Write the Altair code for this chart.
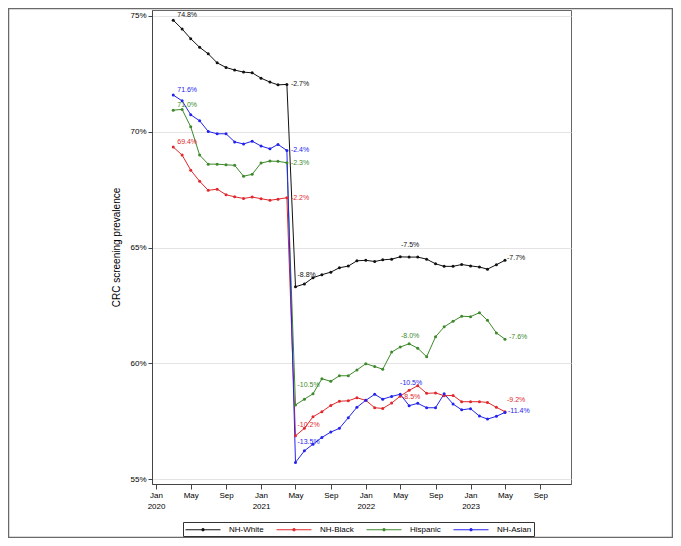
import altair as alt
import pandas as pd

# ---------------- data ----------------
SERIES = ["NH-White", "NH-Black", "Hispanic", "NH-Asian"]
COLORS = ["#111111", "#e0282d", "#3d8a2b", "#2323ee"]

# months March 2020 .. May 2023 (39 monthly points)
MONTHS = []
for yr in (2020, 2021, 2022, 2023):
    for mo in range(1, 13):
        if (yr, mo) >= (2020, 3) and (yr, mo) <= (2023, 5):
            MONTHS.append(f"{yr}-{mo:02d}-01T00:00:00")

NH_WHITE = [74.81, 74.43, 74.01, 73.64, 73.36, 72.97, 72.77, 72.66, 72.57, 72.54, 72.31, 72.14, 72.02, 72.04,
            63.31, 63.43, 63.70, 63.83, 63.94, 64.13, 64.20, 64.43, 64.45, 64.40, 64.47, 64.50, 64.60, 64.59,
            64.59, 64.50, 64.30, 64.19, 64.19, 64.27, 64.21, 64.16, 64.07, 64.26, 64.45]
NH_BLACK = [69.34, 68.99, 68.34, 67.86, 67.47, 67.52, 67.28, 67.19, 67.12, 67.18, 67.11, 67.04, 67.09, 67.15,
            56.88, 57.20, 57.70, 57.92, 58.19, 58.37, 58.39, 58.52, 58.41, 58.09, 58.06, 58.29, 58.59, 58.84,
            59.04, 58.71, 58.73, 58.61, 58.62, 58.35, 58.35, 58.35, 58.32, 58.11, 57.92]
HISPANIC = [70.93, 70.96, 70.21, 68.99, 68.60, 68.60, 68.57, 68.55, 68.08, 68.16, 68.65, 68.73, 68.72, 68.66,
            58.21, 58.46, 58.69, 59.34, 59.23, 59.47, 59.47, 59.72, 59.99, 59.87, 59.75, 60.49, 60.71, 60.85,
            60.66, 60.29, 61.15, 61.58, 61.82, 62.04, 62.02, 62.19, 61.86, 61.32, 61.05]
NH_ASIAN = [71.58, 71.33, 70.73, 70.47, 70.01, 69.91, 69.91, 69.56, 69.47, 69.59, 69.38, 69.26, 69.45, 69.19,
            55.73, 56.23, 56.52, 56.81, 57.04, 57.20, 57.66, 58.11, 58.41, 58.67, 58.46, 58.58, 58.67, 58.18,
            58.28, 58.09, 58.09, 58.69, 58.25, 58.00, 58.05, 57.73, 57.60, 57.72, 57.89]

VALUES = {"NH-White": NH_WHITE, "NH-Black": NH_BLACK, "Hispanic": HISPANIC, "NH-Asian": NH_ASIAN}

# annotation labels: series, month, text
LABEL_SERIES = ["NH-White", "NH-Black", "Hispanic", "NH-Asian"] * 5
LABEL_MONTH = ["2020-03"] * 4 + ["2021-04"] * 4 + ["2021-05"] * 4 + ["2022-06"] * 4 + ["2023-05"] * 4
LABEL_TEXT = ["74.8%", "69.4%", "71.0%", "71.6%",
              "-2.7%", "-2.2%", "-2.3%", "-2.4%",
              "-8.8%", "-10.2%", "-10.5%", "-13.5%",
              "-7.5%", "-8.5%", "-8.0%", "-10.5%",
              "-7.7%", "-9.2%", "-7.6%", "-11.4%"]

# label styling (dx, dy, align) -- styles, not data
LABEL_STYLE = [(4, -5, "left")] * 4 + [(4, 0, "left")] * 4 + \
              [(2, -12, "left"), (2, -11, "left"), (2, -20, "left"), (2, -20, "left")] + \
              [(1, -12, "center"), (2, 7, "center"), (1, -8, "center"), (2, -23, "center")] + \
              [(2, -2, "left"), (2, -12, "left"), (4, -2, "left"), (3, -1, "left")]

# ---------------- build tables ----------------
rows = []
for s in SERIES:
    for m, v in zip(MONTHS, VALUES[s]):
        rows.append({"series": s, "date": m, "value": v})
df = pd.DataFrame(rows)

FONT = "Liberation Sans"
color_scale = alt.Scale(domain=SERIES, range=COLORS)

x_scale = alt.Scale(domain=[alt.DateTime(year=2019, month=12, date=18),
                            alt.DateTime(year=2023, month=12, date=17)])
x_axis = alt.Axis(
    title=None,
    grid=False,
    values=[alt.DateTime(year=y, month=m, date=1)
            for y in (2020, 2021, 2022, 2023) for m in (1, 5, 9)],
    labelExpr="month(datum.value) == 0 ? ['Jan', timeFormat(datum.value, '%Y')] : timeFormat(datum.value, '%b')",
    labelOverlap=False,
    labelFlush=False,
    labelBound=False,
    tickSize=5,
    labelPadding=2,
    labelFontSize=8,
    labelLineHeight=11,
    labelBaseline="top",
)
y_scale = alt.Scale(domain=[54.8, 75.25], nice=False, zero=False)
y_axis = alt.Axis(
    title="CRC screening prevalence",
    values=[55, 60, 65, 70, 75],
    labelExpr="datum.value + '%'",
    tickSize=4,
    labelPadding=2,
    labelFontSize=8,
    titleFontSize=10,
    titleFontWeight="normal",
    titlePadding=8,
    grid=True,
    gridColor="#e4e4e4",
)


def xe():
    return alt.X("date:T", scale=x_scale, axis=x_axis)


def ye():
    return alt.Y("value:Q", scale=y_scale, axis=y_axis)


# legend symbol: a line (to the right of the symbol slot) with a small dot in its middle
LEGEND_PATH = "M-1,0H6M2.3,-0.2H2.7V0.2H2.3Z"

lines = alt.Chart(df).mark_line(strokeWidth=1).encode(
    x=xe(),
    y=ye(),
    color=alt.Color(
        "series:N",
        scale=color_scale,
        legend=alt.Legend(
            orient="none",
            legendX=31,
            legendY=512,
            direction="horizontal",
            title=None,
            symbolType=LEGEND_PATH,
            symbolSize=100,
            symbolStrokeWidth=1,
            labelFontSize=8,
            labelFont=FONT,
            labelColor="#000",
            columnPadding=10,
            labelOffset=33,
            padding=2,
            strokeColor="#333",
            fillColor="white",
        ),
    ),
    detail="series:N",
)

points = alt.Chart(df).mark_point(filled=True, size=9, opacity=1, shape="circle").encode(
    x=xe(), y=ye(),
    color=alt.Color("series:N", scale=color_scale, legend=None),
)

label_layers = []
for s, m, t, (dx, dy, al) in zip(LABEL_SERIES, LABEL_MONTH, LABEL_TEXT, LABEL_STYLE):
    d = m + "-01T00:00:00"
    v = VALUES[s][MONTHS.index(d)]
    ldf = pd.DataFrame([{"series": s, "date": d, "value": v, "text": t}])
    label_layers.append(
        alt.Chart(ldf).mark_text(dx=dx, dy=dy, align=al, baseline="middle", fontSize=7, font=FONT).encode(
            x=xe(), y=ye(), text="text:N",
            color=alt.Color("series:N", scale=color_scale, legend=None),
        )
    )

border = alt.Chart(alt.Data(values=[{"k": 1}])).mark_rect(
    fill="transparent", stroke="#6a6a6a", strokeWidth=1.5
).encode(
    x=alt.value(-143.5), x2=alt.value(520.5), y=alt.value(-1.5), y2=alt.value(527.5)
)

chart = alt.layer(border, lines, points, *label_layers).properties(
    width=419,
    height=474,
    autosize=alt.AutoSizeParams(type="none"),
    padding={"left": 144, "top": 2, "right": 102, "bottom": 54},
).configure(
    font=FONT,
).configure_view(
    stroke="#666", strokeWidth=1,
).configure_axis(
    labelFont=FONT, titleFont=FONT, labelColor="#000", titleColor="#000",
    domainColor="#444", tickColor="#444",
)

chart.save("out.html", embed_options={"renderer": "svg", "actions": False})
